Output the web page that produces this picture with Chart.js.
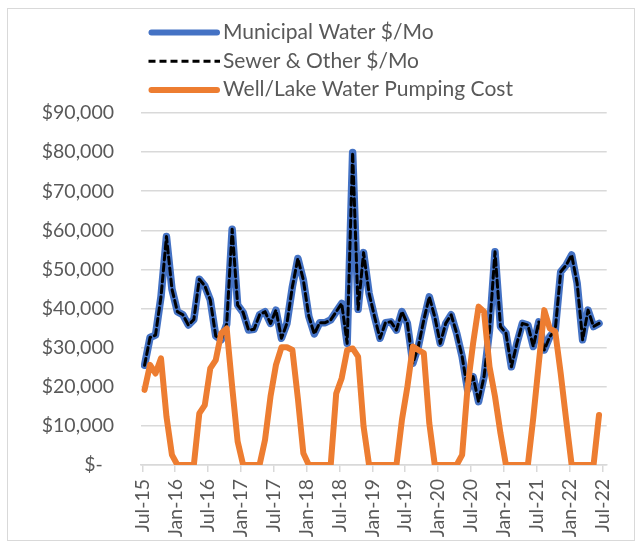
<!DOCTYPE html>
<html>
<head>
<meta charset="utf-8">
<script src="https://cdn.jsdelivr.net/npm/chart.js@4"></script>
<style>
  html, body { margin: 0; padding: 0; background: #fff; }
</style>
</head>
<body>
<canvas id="waterCost" width="637" height="550"></canvas>
<script>
// axis labels, one every 6 months starting Jul-15
const tickLabels = ['Jul-15', 'Jan-16', 'Jul-16', 'Jan-17', 'Jul-17', 'Jan-18', 'Jul-18', 'Jan-19',
  'Jul-19', 'Jan-20', 'Jul-20', 'Jan-21', 'Jul-21', 'Jan-22', 'Jul-22']

// monthly bills, Jul-15 .. Jun-22
const municipalWater = [
  25500, 32600, 33200, 43000, 58400, 45000, 39200, 38400, 35800, 37200, 47500, 45800,
  42200, 33000, 32000, 36000, 60300, 40900, 39000, 34500, 34700, 38400, 39200, 36200,
  39600, 32400, 36200, 45600, 52800, 47300, 38000, 33500, 36400, 36400, 37100, 39200,
  41300, 31100, 79900, 39800, 54300, 43900, 37900, 32400, 36400, 36600, 34500, 39200,
  36200, 26000, 30300, 37100, 43000, 37900, 31100, 36200, 38400, 33700, 27700, 19200,
  22600, 16200, 22600, 34500, 54500, 35400, 33700, 25100, 31100, 36200, 35800, 30300,
  36600, 29400, 32800, 34500, 49400, 51100, 53700, 46500, 32000, 39600, 35400, 36200
]
const sewerOther = [
  25500, 32600, 33200, 43000, 58400, 45000, 39200, 38400, 35800, 37200, 47500, 45800,
  42200, 33000, 32000, 36000, 60300, 40900, 39000, 34500, 34700, 38400, 39200, 36200,
  39600, 32400, 36200, 45600, 52800, 47300, 38000, 33500, 36400, 36400, 37100, 39200,
  41300, 31100, 79900, 39800, 54300, 43900, 37900, 32400, 36400, 36600, 34500, 39200,
  36200, 26000, 30300, 37100, 43000, 37900, 31100, 36200, 38400, 33700, 27700, 19200,
  22600, 16200, 22600, 34500, 54500, 35400, 33700, 25100, 31100, 36200, 35800, 30300,
  36600, 29400, 32800, 34500, 49400, 51100, 53700, 46500, 32000, 39600, 35400, 36200
]
const wellLakePumping = [
  19200, 25600, 23400, 27300, 12400, 2600, 0, 0, 0, 0, 13200, 15300,
  24700, 26800, 33700, 34900, 20000, 6000, 0, 0, 0, 0, 6400, 17500,
  25600, 30100, 30100, 29400, 17000, 3000, 0, 0, 0, 0, 0, 18300,
  22200, 29400, 29800, 27700, 9800, 0, 0, 0, 0, 0, 0, 11500,
  20000, 30300, 29400, 28600, 10700, 0, 0, 0, 0, 0, 2600, 20000,
  31100, 40500, 39200, 25100, 17500, 8100, 0, 0, 0, 0, 0, 12200,
  26000, 39600, 34900, 34100, 23400, 11500, 0, 0, 0, 0, 0, 12800
]

// bills are read a little into each month, so points sit just past the month tick
const billOffset = 0.4

function toPoints(values) {
  return values.map((v, i) => ({ x: i + billOffset, y: v }))
}

const textColor = '#595959'
const gridColor = '#d9d9d9'
Chart.defaults.font.family = "Lato, 'Open Sans', sans-serif"
Chart.defaults.font.size = 19.5
Chart.defaults.color = textColor

// outer frame like the spreadsheet chart box
const frame = {
  id: 'frame',
  beforeDraw(chart) {
    const ctx = chart.ctx
    ctx.save()
    ctx.strokeStyle = gridColor
    ctx.lineWidth = 1
    ctx.strokeRect(7.5, 8.5, 627, 532)
    ctx.restore()
  }
}

// stacked legend in the top left, one series per row
const seriesKey = {
  id: 'seriesKey',
  afterDraw(chart) {
    const ctx = chart.ctx
    ctx.save()
    ctx.font = "21px Lato, 'Open Sans', sans-serif"
    ctx.textBaseline = 'middle'
    chart.data.datasets.forEach((ds, i) => {
      const y = 32.5 + i * 28.8
      ctx.beginPath()
      ctx.strokeStyle = ds.borderColor
      if (ds.borderDash) {
        ctx.lineWidth = ds.borderWidth
        ctx.lineCap = 'butt'
        ctx.setLineDash(ds.borderDash)
        ctx.moveTo(148.5, y)
        ctx.lineTo(220, y)
      } else {
        ctx.lineWidth = 6
        ctx.lineCap = 'round'
        ctx.setLineDash([])
        ctx.moveTo(151.5, y)
        ctx.lineTo(217, y)
      }
      ctx.stroke()
      ctx.setLineDash([])
      ctx.fillStyle = textColor
      ctx.fillText(ds.label, 223, y - 0.5)
    })
    ctx.restore()
  }
}

new Chart('waterCost', {
  type: 'line',
  data: {
    datasets: [{
      label: 'Municipal Water $/Mo',
      data: toPoints(municipalWater),
      borderColor: '#4472C4',
      borderWidth: 7.5,
      order: 3
    }, {
      label: 'Sewer & Other $/Mo',
      data: toPoints(sewerOther),
      borderColor: '#000000',
      borderWidth: 3,
      borderDash: [7, 4],
      order: 2
    }, {
      label: 'Well/Lake Water Pumping Cost',
      data: toPoints(wellLakePumping),
      borderColor: '#ED7D31',
      borderWidth: 6,
      order: 1
    }]
  },
  options: {
    responsive: false,
    animation: false,
    elements: {
      point: { radius: 0 },
      line: { tension: 0, borderJoinStyle: 'round', borderCapStyle: 'round' }
    },
    layout: { padding: { top: 113, right: 30.3, bottom: 0, left: 0 } },
    plugins: {
      legend: { display: false },
      tooltip: { enabled: false }
    },
    scales: {
      x: {
        type: 'linear',
        min: -0.25,
        max: 84.8,
        afterBuildTicks: scale => {
          scale.ticks = tickLabels.map((t, k) => ({ value: k * 6 }))
        },
        afterFit: scale => { scale.height = 85 },
        ticks: {
          autoSkip: false,
          minRotation: 90,
          maxRotation: 90,
          padding: 7,
          callback: (value, index) => tickLabels[index]
        },
        grid: { drawOnChartArea: false, color: gridColor, lineWidth: 1.5, tickLength: 7 },
        border: { color: gridColor, width: 1.5 }
      },
      y: {
        min: 0,
        max: 90000,
        afterFit: scale => { scale.width = 141 },
        ticks: {
          stepSize: 10000,
          padding: 27,
          callback: v => v === 0 ? '$-\u2007' : '$' + v.toLocaleString('en-US')
        },
        grid: { color: gridColor, lineWidth: 1.5, drawTicks: false },
        border: { display: false }
      }
    }
  },
  plugins: [frame, seriesKey]
})
</script>
</body>
</html>
